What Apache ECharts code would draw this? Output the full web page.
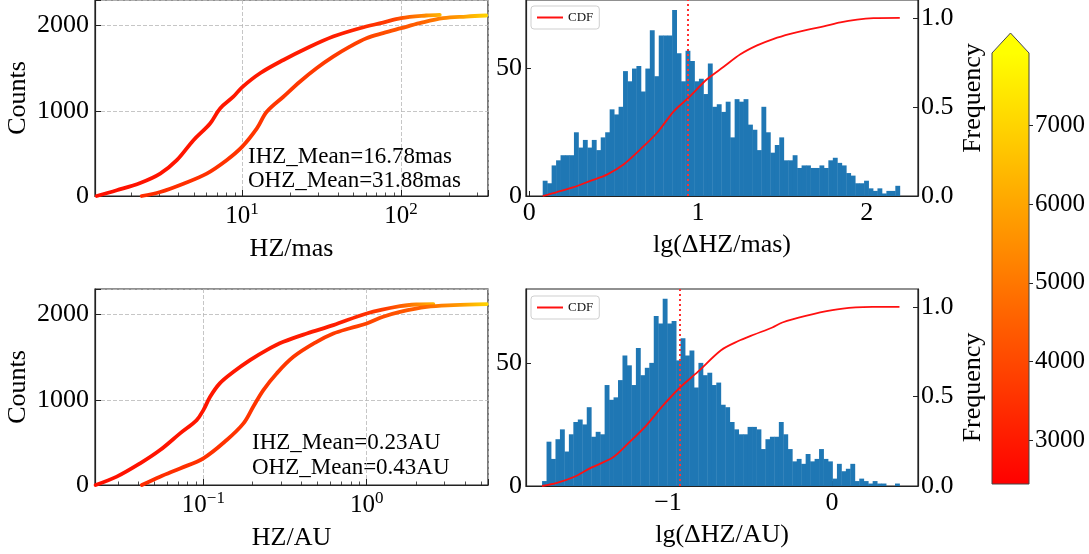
<!DOCTYPE html>
<html>
<head>
<meta charset="utf-8">
<script src="https://cdn.jsdelivr.net/npm/echarts@6/dist/echarts.min.js"></script>
<style>
html, body { margin: 0; padding: 0; background: #fff; }
#chart { width: 1089px; height: 554px; }
</style>
</head>
<body>
<div id="chart"></div>
<script>
// ---------- data ----------
// cumulative counts of habitable-zone widths, in mas
const hzMasIHZ  = [1.22, 1.63, 2.29, 3.06, 3.89, 4.95, 6.3, 7.28, 8.82, 10, 12.98, 18.2, 25.5, 37.4, 55, 77, 100, 144, 175];
const cntMasIHZ = [0, 67, 153, 263, 420, 655, 851, 1028, 1165, 1275, 1440, 1596, 1734, 1871, 1969, 2035, 2087, 2118, 2126];
const hzMasOHZ  = [2.34, 3.06, 4.28, 6.0, 8.0, 10, 12.4, 14.3, 18.2, 23.1, 29.4, 37.4, 47.6, 60.6, 77, 100, 131, 184, 257, 343];
const cntMasOHZ = [0, 47, 145, 263, 420, 576, 793, 988, 1165, 1341, 1499, 1635, 1753, 1851, 1911, 1969, 2028, 2087, 2106, 2118];

// cumulative counts of habitable-zone widths, in AU
const hzAuIHZ  = [0.0219, 0.0295, 0.041, 0.0543, 0.072, 0.091, 0.1, 0.11, 0.126, 0.153, 0.193, 0.244, 0.309, 0.43, 0.625, 1.0, 1.6, 2.02, 2.56];
const cntAuIHZ = [0, 98, 254, 410, 606, 762, 879, 1035, 1192, 1328, 1465, 1583, 1680, 1778, 1876, 2013, 2098, 2118, 2122];
const hzAuOHZ  = [0.042, 0.0543, 0.072, 0.1, 0.139, 0.176, 0.202, 0.233, 0.281, 0.356, 0.494, 0.625, 0.79, 1.0, 1.26, 1.6, 2.33, 3.4, 5.43];
const cntAuOHZ = [0, 98, 195, 313, 528, 723, 918, 1114, 1309, 1504, 1680, 1778, 1840, 1895, 1974, 2032, 2090, 2110, 2122];

const meanTexts = ['IHZ_Mean=16.78mas', 'OHZ_Mean=31.88mas', 'IHZ_Mean=0.23AU', 'OHZ_Mean=0.43AU'];

// histogram of lg(ΔHZ/mas): 80 equal bins over dMasRange
const dMasRange = [0.079, 2.196];
const dMasCounts = [6, 5, 12, 14, 16, 16, 16, 25, 19, 22, 19, 22, 18, 23, 25, 34, 32, 35, 49, 45,
  50, 51, 41, 50, 65, 47, 63, 63, 63, 73, 56, 45, 57, 53, 45, 46, 40, 52, 35, 36,
  33, 37, 23, 38, 37, 38, 28, 26, 18, 35, 25, 17, 20, 23, 14, 14, 16, 11, 12, 12,
  11, 11, 12, 11, 14, 15, 13, 12, 9, 8, 5, 5, 6, 3, 2, 3, 1, 2, 2, 4];
const dMasCdfX = [0.079, 0.164, 0.263, 0.362, 0.46, 0.56, 0.658, 0.757, 0.856, 0.945, 1.053, 1.152, 1.251, 1.35, 1.449, 1.547, 1.646, 1.745, 1.844, 1.943, 2.04, 2.196];
const dMasCdfY = [0, 0.022, 0.05, 0.085, 0.12, 0.178, 0.262, 0.355, 0.475, 0.553, 0.655, 0.725, 0.795, 0.845, 0.882, 0.91, 0.933, 0.952, 0.975, 0.99, 0.998, 1.0];
const dMasMedian = 0.945;

// histogram of lg(ΔHZ/AU): 80 equal bins over dAuRange
const dAuRange = [-1.768, 0.411];
const dAuCounts = [2, 18, 11, 19, 23, 14, 21, 26, 27, 25, 32, 20, 22, 21, 41, 35, 36, 43, 53, 49,
  41, 56, 45, 48, 50, 69, 66, 76, 66, 67, 51, 60, 53, 55, 40, 50, 45, 46, 41, 42,
  33, 32, 26, 23, 21, 21, 24, 24, 23, 15, 19, 20, 20, 26, 21, 15, 10, 11, 9, 13,
  10, 11, 15, 11, 10, 3, 9, 6, 7, 9, 2, 3, 2, 1, 2, 1, 1, 0, 0, 1];
const dAuCdfX = [-1.768, -1.677, -1.575, -1.474, -1.335, -1.234, -1.132, -1.030, -0.927, -0.819, -0.677, -0.575, -0.474, -0.364, -0.303, -0.161, 0.002, 0.144, 0.246, 0.411];
const dAuCdfY = [0, 0.017, 0.05, 0.10, 0.16, 0.246, 0.339, 0.45, 0.55, 0.637, 0.758, 0.808, 0.846, 0.885, 0.913, 0.95, 0.982, 0.997, 1.0, 1.0];
const dAuMedian = -0.927;

// tick values
const countTicks = [0, 1000, 2000];
const masMinorTicks = [2, 3, 4, 5, 6, 7, 8, 9, 20, 30, 40, 50, 60, 70, 80, 90, 200, 300];
const auMinorTicks = [0.03, 0.04, 0.05, 0.06, 0.07, 0.08, 0.09, 0.2, 0.3, 0.4, 0.5, 0.6, 0.7, 0.8, 0.9, 2, 3, 4, 5];
const dMasTicks = [0, 1, 2];
const dAuTicks = [-1, 0];
const histTicks = [0, 50];
const cdfTicks = [0, 0.5, 1.0];
const freqTicks = [3000, 4000, 5000, 6000, 7000];
const freqRange = [2443, 7922];

// ---------- helpers ----------
const FONT = '"Liberation Serif", "Times New Roman", serif';
const INK = '#222';
const zip = (xs, ys) => xs.map((x, i) => [x, ys[i]]);
const minus = v => (v < 0 ? '\u2212' + Math.abs(v) : String(v));
const plain = v => String(v);

function powLabel(v) {
  const e = Math.round(Math.log10(v));
  if (Math.abs(Math.log10(v) - e) > 1e-6) return '';
  return '{b|10}{s|' + minus(e) + '}';
}

const tickFont = { fontFamily: FONT, fontSize: 26, color: '#000' };
const nameFont = { fontFamily: FONT, fontSize: 26, color: '#000' };

function logX(grid, min, max, name) {
  return {
    type: 'log', logBase: 10, gridIndex: grid, min, max, position: 'bottom',
    name, nameLocation: 'middle', nameGap: 40, nameTextStyle: nameFont,
    axisLine: { onZero: false, lineStyle: { color: INK, width: 1.2 } },
    axisTick: { inside: true, length: 6, lineStyle: { color: INK, width: 1 } },
    axisLabel: {
      margin: 5, formatter: powLabel,
      rich: {
        b: { fontFamily: FONT, fontSize: 25, color: '#000', lineHeight: 28, verticalAlign: 'bottom' },
        s: { fontFamily: FONT, fontSize: 17, color: '#000', lineHeight: 17, verticalAlign: 'top' }
      }
    },
    splitLine: { show: true, lineStyle: { color: '#b8b8b8', type: [4, 2], width: 0.8 } }
  };
}
function minorX(grid, min, max, ticks) {
  return {
    type: 'log', logBase: 10, gridIndex: grid, min, max, position: 'bottom',
    axisLine: { show: false, onZero: false }, axisLabel: { show: false }, splitLine: { show: false },
    axisTick: { inside: true, length: 3.5, customValues: ticks, lineStyle: { color: INK, width: 0.8 } }
  };
}
function countY(grid) {
  return {
    type: 'value', gridIndex: grid, min: 0, max: 2300, interval: 1000,
    name: 'Counts', nameLocation: 'middle', nameRotate: 90, nameGap: 64, nameTextStyle: nameFont,
    axisLine: { show: true, onZero: false, lineStyle: { color: INK, width: 1.2 } },
    axisTick: { inside: true, length: 6, lineStyle: { color: INK } },
    axisLabel: Object.assign({ margin: 6, customValues: countTicks, formatter: plain }, tickFont),
    splitLine: { show: true, lineStyle: { color: '#b8b8b8', type: [4, 2], width: 0.8 } }
  };
}
function linX(grid, min, max, ticks, name) {
  return {
    type: 'value', gridIndex: grid, min, max, position: 'bottom',
    name, nameLocation: 'middle', nameGap: 36, nameTextStyle: nameFont,
    axisLine: { onZero: false, lineStyle: { color: INK, width: 1.2 } },
    axisTick: { inside: true, length: 5, customValues: ticks, lineStyle: { color: INK } },
    axisLabel: Object.assign({ margin: 4, customValues: ticks, formatter: minus }, tickFont),
    splitLine: { show: false }
  };
}
function histY(grid, max) {
  return {
    type: 'value', gridIndex: grid, min: 0, max, position: 'left',
    axisLine: { show: true, onZero: false, lineStyle: { color: INK, width: 1.2 } },
    axisTick: { inside: true, length: 5, customValues: histTicks, lineStyle: { color: INK } },
    axisLabel: Object.assign({ margin: 4, customValues: histTicks, formatter: plain }, tickFont),
    splitLine: { show: false }
  };
}
function cdfY(grid) {
  return {
    type: 'value', gridIndex: grid, min: 0, max: 1.1, position: 'right',
    name: 'Frequency', nameLocation: 'middle', nameRotate: 90, nameGap: 42, nameTextStyle: nameFont,
    axisLine: { show: true, onZero: false, lineStyle: { color: INK, width: 1.2 } },
    axisTick: { inside: true, length: 5, customValues: cdfTicks, lineStyle: { color: INK } },
    axisLabel: Object.assign({ margin: 3, customValues: cdfTicks, formatter: v => v.toFixed(1) }, tickFont),
    splitLine: { show: false }
  };
}

function curve(name, xs, ys, xi, yi, stops) {
  return {
    name, type: 'line', xAxisIndex: xi, yAxisIndex: yi, data: zip(xs, ys),
    smooth: 0.35, symbol: 'none', z: 3,
    lineStyle: {
      width: 3.8, cap: 'round', join: 'round',
      color: new echarts.graphic.LinearGradient(0, 0, 1, 0, stops)
    }
  };
}
const ihzStops = [
  { offset: 0, color: '#ff1000' }, { offset: 0.72, color: '#ff1e00' },
  { offset: 0.86, color: '#ff4000' }, { offset: 0.95, color: '#ff8a00' }, { offset: 1, color: '#ffbc00' }
];
const ohzStops = [
  { offset: 0, color: '#ff2c00' }, { offset: 0.6, color: '#ff3c00' },
  { offset: 0.8, color: '#ff5e00' }, { offset: 0.92, color: '#ff9c00' }, { offset: 1, color: '#ffd800' }
];

function histSeries(counts, range, xi, yi) {
  const w = (range[1] - range[0]) / counts.length;
  const data = counts.map((c, i) => [range[0] + i * w, range[0] + (i + 1) * w, c]);
  return {
    type: 'custom', xAxisIndex: xi, yAxisIndex: yi, data, z: 2,
    encode: { x: [0, 1], y: 2 },
    renderItem(params, api) {
      const p0 = api.coord([api.value(0), 0]);
      const p1 = api.coord([api.value(1), api.value(2)]);
      return {
        type: 'rect',
        shape: { x: p0[0], y: p1[1], width: p1[0] - p0[0] + 0.4, height: p0[1] - p1[1] },
        style: { fill: '#1f77b4' }
      };
    }
  };
}
function cdfSeries(xs, ys, xi, yi, median) {
  return {
    name: 'CDF', type: 'line', xAxisIndex: xi, yAxisIndex: yi, data: zip(xs, ys),
    smooth: 0.3, symbol: 'none', z: 4,
    lineStyle: { color: '#ff1010', width: 1.8 },
    itemStyle: { color: '#ff1010' },
    markLine: {
      silent: true, symbol: 'none', label: { show: false },
      lineStyle: { color: '#ff3030', type: [2, 3], width: 2 },
      data: [{ xAxis: median }]
    }
  };
}

function legendAt(top) {
  return {
    data: ['CDF'], left: 531, top, orient: 'vertical', icon: 'rect',
    padding: [5, 6, 5, 6], itemWidth: 26, itemHeight: 2, itemGap: 4,
    borderColor: '#cfcfcf', borderWidth: 1, borderRadius: 3, backgroundColor: 'rgba(255,255,255,0.85)',
    textStyle: { fontFamily: FONT, fontSize: 13, color: '#111' },
    selectedMode: false
  };
}

const chart = echarts.init(document.getElementById('chart'), null, { renderer: 'canvas' });
chart.setOption({
  animation: false,
  backgroundColor: '#fff',
  textStyle: { fontFamily: FONT },
  grid: [
    { left: 95, top: 0, width: 393, height: 196, show: true, borderColor: INK, borderWidth: 1.2, containLabel: false },
    { left: 526, top: 0, width: 392, height: 196, show: true, borderColor: INK, borderWidth: 1.2, containLabel: false },
    { left: 95, top: 289, width: 393, height: 196, show: true, borderColor: INK, borderWidth: 1.2, containLabel: false },
    { left: 526, top: 289, width: 392, height: 197, show: true, borderColor: INK, borderWidth: 1.2, containLabel: false },
    { left: 992, top: 53, width: 37, height: 431, containLabel: false }
  ],
  xAxis: [
    logX(0, 1.19, 352, 'HZ/mas'),
    minorX(0, 1.19, 352, masMinorTicks),
    linX(1, -0.02, 2.304, dMasTicks, 'lg(\u0394HZ/mas)'),
    logX(2, 0.0217, 5.53, 'HZ/AU'),
    minorX(2, 0.0217, 5.53, auMinorTicks),
    linX(3, -1.866, 0.524, dAuTicks, 'lg(\u0394HZ/AU)'),
    { type: 'value', gridIndex: 4, min: 0, max: 1, show: false }
  ],
  yAxis: [
    countY(0),
    histY(1, 76.9),
    cdfY(1),
    countY(2),
    histY(3, 80),
    cdfY(3),
    {
      type: 'value', gridIndex: 4, min: freqRange[0], max: freqRange[1], position: 'right',
      axisLine: { show: false, onZero: false }, splitLine: { show: false },
      axisTick: { show: true, inside: false, length: 4, customValues: freqTicks, lineStyle: { color: INK } },
      axisLabel: Object.assign({ margin: 6, customValues: freqTicks, formatter: plain }, tickFont, { fontSize: 25 })
    }
  ],
  legend: [legendAt(6), legendAt(296)],
  graphic: [
    { type: 'text', left: 248, top: 145, style: { text: meanTexts[0], font: '23px ' + FONT, fill: '#000' } },
    { type: 'text', left: 248, top: 169, style: { text: meanTexts[1], font: '23px ' + FONT, fill: '#000' } },
    { type: 'text', left: 252, top: 431, style: { text: meanTexts[2], font: '23px ' + FONT, fill: '#000' } },
    { type: 'text', left: 252, top: 456, style: { text: meanTexts[3], font: '23px ' + FONT, fill: '#000' } }
  ],
  series: [
    curve('IHZ', hzMasIHZ, cntMasIHZ, 0, 0, ihzStops),
    curve('OHZ', hzMasOHZ, cntMasOHZ, 0, 0, ohzStops),
    histSeries(dMasCounts, dMasRange, 2, 1),
    cdfSeries(dMasCdfX, dMasCdfY, 2, 2, dMasMedian),
    curve('IHZ', hzAuIHZ, cntAuIHZ, 3, 3, ihzStops),
    curve('OHZ', hzAuOHZ, cntAuOHZ, 3, 3, ohzStops),
    histSeries(dAuCounts, dAuRange, 5, 4),
    cdfSeries(dAuCdfX, dAuCdfY, 5, 5, dAuMedian),
    // colour bar with an extension arrow above the maximum
    {
      type: 'custom', xAxisIndex: 6, yAxisIndex: 6, data: [[0, freqRange[0], 1, freqRange[1]]],
      encode: { x: [0, 2], y: [1, 3] }, silent: true,
      renderItem(params, api) {
        const a = api.coord([api.value(0), api.value(1)]);
        const b = api.coord([api.value(2), api.value(3)]);
        const tip = 20;
        const mid = (a[0] + b[0]) / 2;
        return {
          type: 'group',
          children: [
            {
              type: 'rect',
              shape: { x: a[0], y: b[1], width: b[0] - a[0], height: a[1] - b[1] },
              style: { fill: new echarts.graphic.LinearGradient(0, 1, 0, 0, [
                { offset: 0, color: '#ff0000' }, { offset: 1, color: '#ffff00' }
              ]) }
            },
            {
              type: 'polygon',
              shape: { points: [[a[0], b[1] + 0.5], [mid, b[1] - tip], [b[0], b[1] + 0.5]] },
              style: { fill: '#ffff00' }
            },
            {
              type: 'polygon',
              shape: { points: [[a[0], a[1]], [a[0], b[1]], [mid, b[1] - tip], [b[0], b[1]], [b[0], a[1]]] },
              style: { fill: null, stroke: '#444', lineWidth: 1 }
            }
          ]
        };
      }
    }
  ]
});
</script>
</body>
</html>
